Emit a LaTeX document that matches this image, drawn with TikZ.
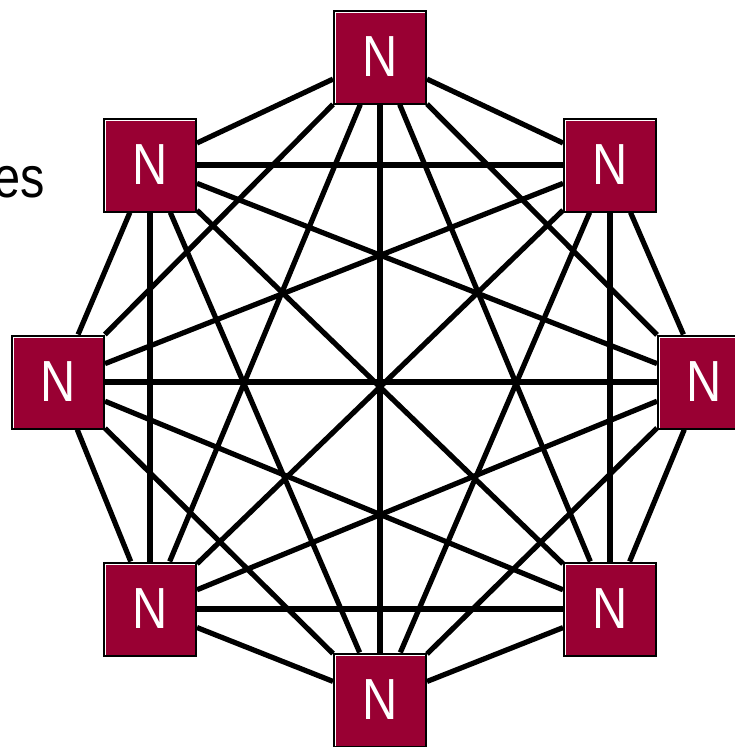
\documentclass[tikz,border=0pt]{standalone}
\usepackage{fontspec}
\newfontfamily\nfont[FakeStretch=0.84]{Liberation Sans}
\definecolor{nred}{RGB}{153,0,51}
\tikzset{
  nbox/.style={rectangle, fill=white, draw=black, line width=2pt,
    minimum width=92pt, minimum height=93pt, inner sep=0pt,
    text=white, font=\nfont\fontsize{58}{58}\selectfont,
    path picture={\fill[nred] ([xshift=2.3pt,yshift=-2.3pt]path picture bounding box.north west) rectangle (path picture bounding box.south east);}},
  link/.style={line width=5.2pt, draw=black},
  lbl/.style={font=\nfont\fontsize{58}{58}\selectfont, inner sep=0pt, anchor=base east}
}
\begin{document}
\begin{tikzpicture}[x=1pt,y=1pt]
\useasboundingbox (0,0) rectangle (734,-747);
\node[lbl] (es) at (45,-197) {es};
\coordinate (p1) at (380,-57);
\coordinate (p2) at (610,-165);
\coordinate (p3) at (704,-382);
\coordinate (p4) at (610,-609);
\coordinate (p5) at (380,-700);
\coordinate (p6) at (150,-609);
\coordinate (p7) at (58,-382);
\coordinate (p8) at (150,-165);
\foreach \i in {1,...,8} {\node[nbox] (n\i) at (p\i) {N};}
\foreach \i in {1,...,7} {
  \pgfmathtruncatemacro{\s}{\i+1}
  \foreach \j in {\s,...,8} {\draw[link] (n\i) -- (n\j);}
}
\foreach \i in {1,...,8} {\node[nbox] at (n\i.center) {N};}
\end{tikzpicture}
\end{document}
